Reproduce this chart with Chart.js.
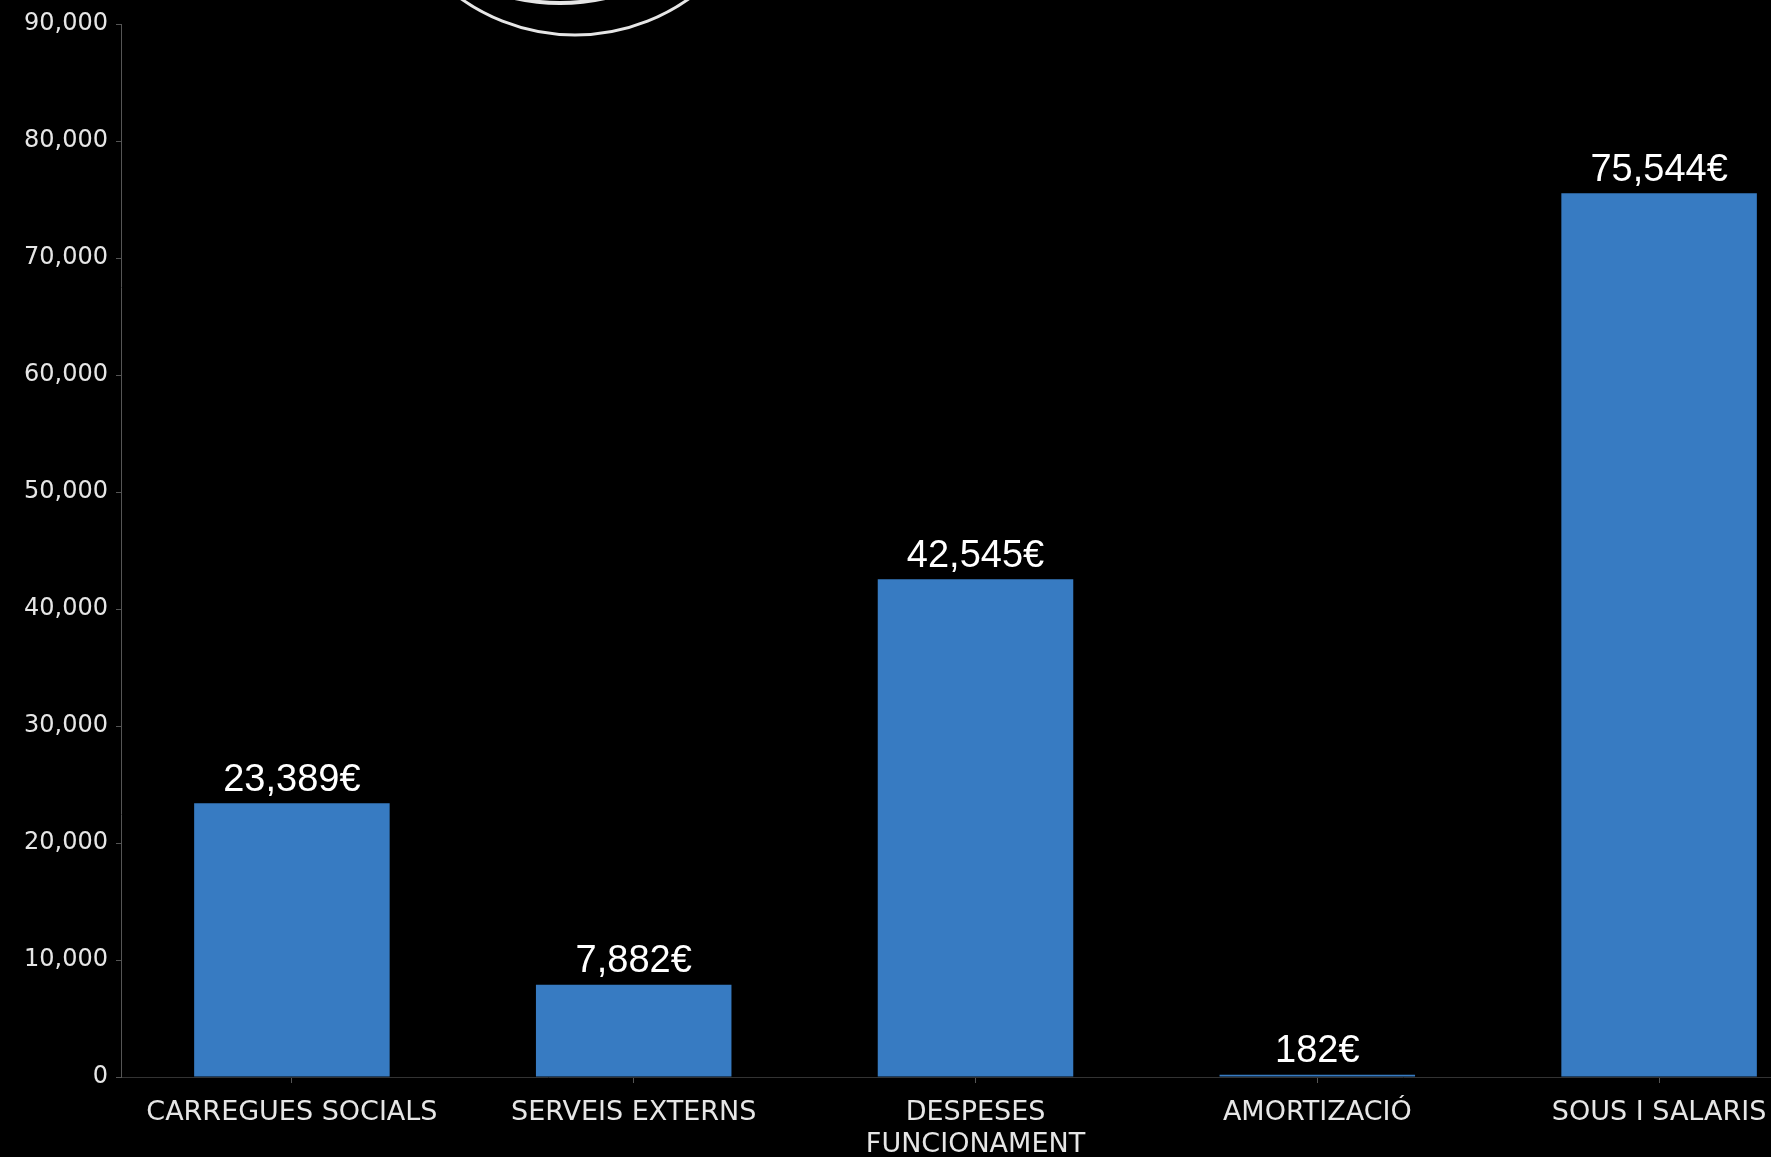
<!DOCTYPE html>
<html>
<head>
<meta charset="utf-8">
<script src="https://cdn.jsdelivr.net/npm/chart.js@4"></script>
<style>
    html, body { margin: 0; padding: 0; background: #000; overflow: hidden; }
    #wrap { position: relative; width: 1830px; height: 1157px; }
</style>
</head>
<body>
<div id="wrap"><canvas id="costChart"></canvas></div>
<script>
const categories = ['CARREGUES SOCIALS', 'SERVEIS EXTERNS', ['DESPESES', 'FUNCIONAMENT'], 'AMORTIZACIÓ', 'SOUS I SALARIS'];
const costs = [23389, 7882, 42545, 182, 75544];
const yTicks = [0, 10000, 20000, 30000, 40000, 50000, 60000, 70000, 80000, 90000];

// value labels above each bar
const barLabels = {
    id: 'barLabels',
    afterDatasetsDraw(chart) {
        const ctx = chart.ctx;
        const meta = chart.getDatasetMeta(0);
        ctx.save();
        ctx.fillStyle = '#ffffff';
        ctx.font = '38px "Liberation Sans", Arial, sans-serif';
        ctx.textAlign = 'center';
        ctx.textBaseline = 'bottom';
        meta.data.forEach((bar, i) => {
            ctx.fillText(costs[i].toLocaleString('en-US') + '€', bar.x, bar.y - 4);
        });
        ctx.restore();
    }
};

// partial logo rings cut by the top edge
const logoRing = {
    id: 'logoRing',
    afterDraw(chart) {
        const ctx = chart.ctx;
        ctx.save();
        ctx.strokeStyle = '#e6e6e6';
        ctx.lineWidth = 3;
        ctx.beginPath();
        ctx.arc(575, -162, 197, 0, Math.PI * 2);
        ctx.stroke();
        ctx.lineWidth = 4;
        ctx.beginPath();
        ctx.arc(560, -203, 206, 0, Math.PI * 2);
        ctx.stroke();
        ctx.restore();
    }
};

new Chart(document.getElementById('costChart').getContext('2d'), {
    type: 'bar',
    data: {
        labels: categories,
        datasets: [{
            data: costs,
            backgroundColor: '#377bc2',
            categoryPercentage: 1,
            barPercentage: 0.572
        }]
    },
    options: {
        responsive: true,
        maintainAspectRatio: false,
        animation: false,
        layout: { padding: { top: 24, left: 0, right: 0, bottom: 0 } },
        plugins: { legend: { display: false }, tooltip: { enabled: false } },
        scales: {
            x: {
                grid: { display: true, offset: false, drawOnChartArea: false, color: '#555', tickLength: 6 },
                border: { color: '#333', width: 1 },
                ticks: {
                    color: '#e6e6e6',
                    padding: 14,
                    maxRotation: 0,
                    autoSkip: false,
                    font: { family: '"DejaVu Sans", sans-serif', size: 27, lineHeight: 1.18 }
                },
                afterFit(scale) { scale.height = 80; }
            },
            y: {
                min: 0,
                max: 90000,
                afterBuildTicks(scale) { scale.ticks = yTicks.map(v => ({ value: v })); },
                grid: { display: true, drawOnChartArea: false, color: '#555', tickLength: 5 },
                border: { color: '#555', width: 1 },
                ticks: {
                    color: '#e6e6e6',
                    padding: 8,
                    callback: v => v.toLocaleString('en-US'),
                    font: { family: '"DejaVu Sans", sans-serif', size: 24 }
                },
                afterFit(scale) { scale.width = 121; }
            }
        }
    },
    plugins: [barLabels, logoRing]
});
</script>
</body>
</html>
